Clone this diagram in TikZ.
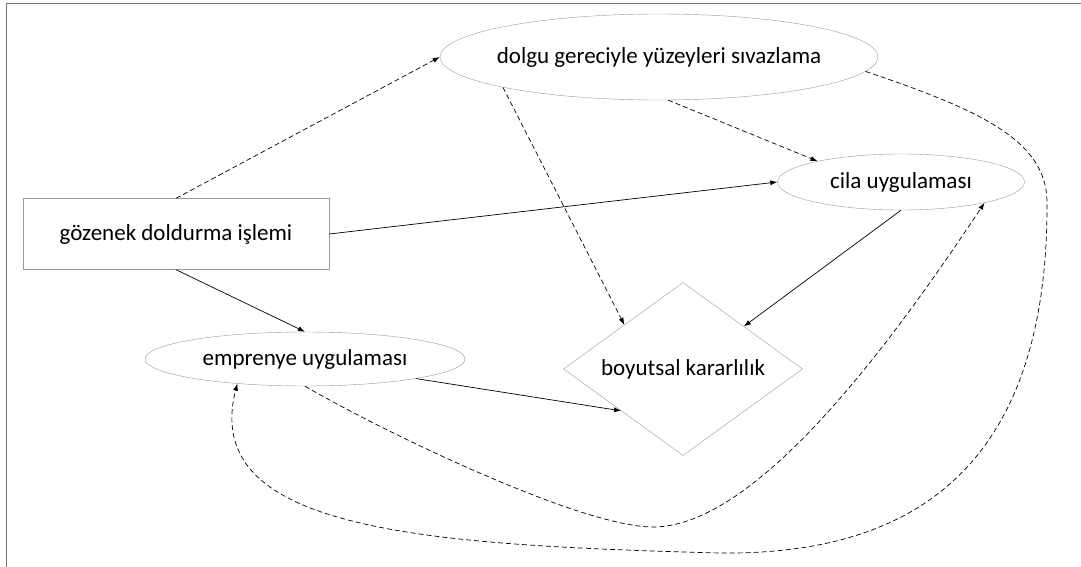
\documentclass[tikz,border=0pt]{standalone}
\usepackage{fontspec}
\setmainfont{Carlito}
\usetikzlibrary{arrows.meta}
\usetikzlibrary{shapes.geometric}
\tikzset{kutu/.style = {draw = gray!80, minimum width = 306pt, minimum height = 71pt, inner sep = 0}}
\tikzset{elips/.style = {draw = gray!80, ellipse, inner sep = 0}}
\tikzset{karo/.style = {draw = gray!80, diamond, inner sep = 0}}
\tikzset{ok/.style = {-{Latex[length = 7pt, width = 5pt]}, line width = 0.7pt}}
\tikzset{kesik/.style = {ok, dash pattern = on 5pt off 3pt}}
\newcommand{\ortala}[1]{\makebox[0pt]{#1}}

\begin{document}
\begin{tikzpicture}[x = 1pt, y = -1pt, font = \fontsize{23}{27}\selectfont]
      \useasboundingbox (0, 0) rectangle (1081, 567);
      \draw [gray!90!black] (6, 567) -- (6, 3) -- (1081, 3);
      \node [kutu] (gozenek) at (176, 234) {gözenek doldurma işlemi};
      \node [elips, minimum width = 438pt, minimum height = 86pt] (dolgu) at (659, 57) {\ortala{dolgu gereciyle yüzeyleri sıvazlama}};
      \node [elips, minimum width = 247pt, minimum height = 56pt] (cila) at (901, 182) {\ortala{cila uygulaması}};
      \node [elips, minimum width = 320pt, minimum height = 54pt] (emprenye) at (305, 359) {\ortala{emprenye uygulaması}};
      \node [karo, minimum width = 239pt, minimum height = 173pt] (boyut) at (683, 369) {\ortala{boyutsal kararlılık}};
      \draw [kesik] (gozenek.north) -- (dolgu.west);
      \draw [ok] (gozenek.east) -- (cila.west);
      \draw [ok] (gozenek.south) -- (emprenye.north);
      \draw [kesik] (dolgu.191) -- (boyut.143);
      \draw [kesik] (dolgu.282) -- (cila.166);
      \draw [ok] (cila.south) -- (boyut.35);
      \draw [ok] (emprenye.-10) -- (boyut.214);
      \draw [kesik] (emprenye.south) .. controls (380, 430) and (580, 527) .. (653, 527)
        .. controls (760, 527) and (900, 330) .. (cila.-14);
      \draw [kesik] (dolgu.-4) .. controls (980, 110) and (1045, 140) .. (1047, 200)
        .. controls (1049, 480) and (900, 555) .. (720, 553)
        .. controls (420, 545) and (200, 530) .. (emprenye.200);
    \end{tikzpicture}
\end{document}
